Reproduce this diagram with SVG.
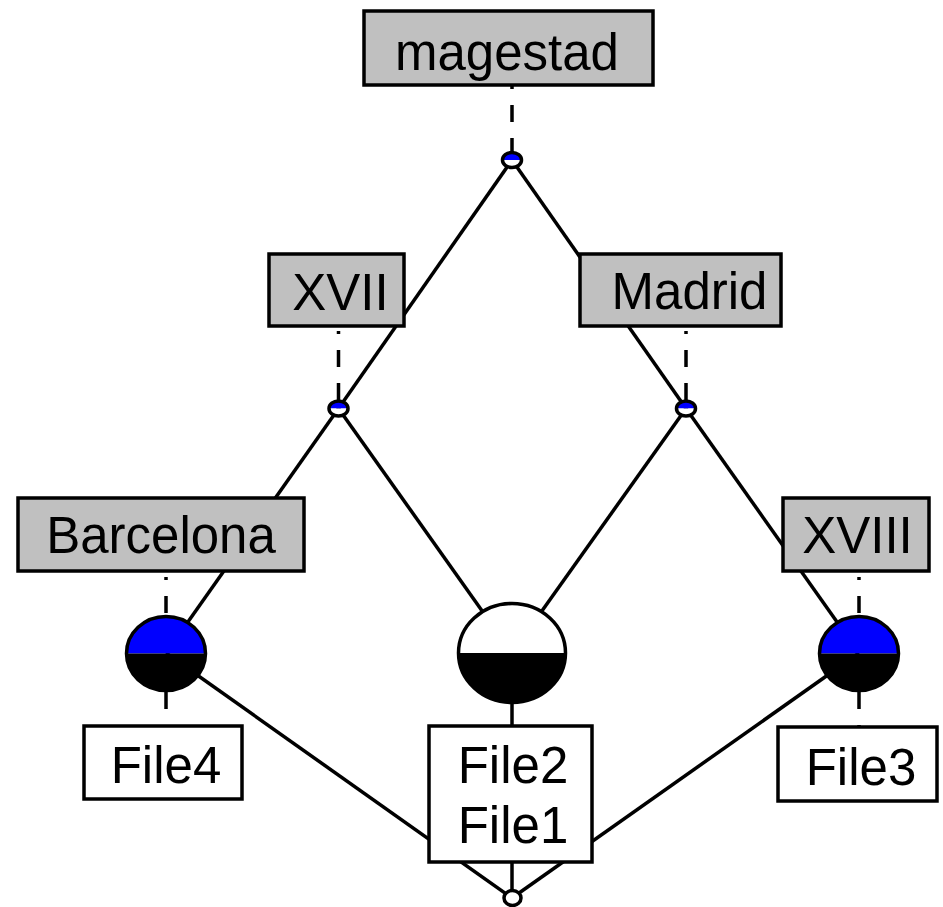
<svg xmlns="http://www.w3.org/2000/svg" width="943" height="907" viewBox="0 0 943 907">
<style>
.ln{stroke:#000;stroke-width:3.5;fill:none}
.dash{stroke:#000;stroke-width:3.5;fill:none;stroke-dasharray:17 16}
.off{stroke-dashoffset:14}
.gbox{fill:#c0c0c0;stroke:#000;stroke-width:3.5}
.wbox{fill:#fff;stroke:#000;stroke-width:3.5}
.lbl{font-family:"Liberation Sans",Arial,sans-serif;font-size:51px;fill:#000;text-anchor:middle}
.out{fill:none;stroke:#000;stroke-width:3.5}
.blue{fill:#0000ff}
.blk{fill:#000}
.wht{fill:#fff}
</style>
<rect width="943" height="907" fill="#fff"/>
<g id="connectors">
<line class="ln" x1="512" y1="160" x2="338.5" y2="408.5"/>
<line class="ln" x1="512" y1="160" x2="686" y2="408.5"/>
<line class="ln" x1="338.5" y1="408.5" x2="166" y2="653"/>
<line class="ln" x1="338.5" y1="408.5" x2="512" y2="653"/>
<line class="ln" x1="686" y1="408.5" x2="512" y2="653"/>
<line class="ln" x1="686" y1="408.5" x2="859" y2="653"/>
<line class="ln" x1="166" y1="653" x2="512" y2="898"/>
<line class="ln" x1="512" y1="653" x2="512" y2="898"/>
<line class="ln" x1="859" y1="653" x2="512" y2="898"/>
<line class="dash off" x1="512" y1="86" x2="512" y2="152"/>
<line class="dash off" x1="338.5" y1="331" x2="338.5" y2="400"/>
<line class="dash off" x1="686" y1="331" x2="686" y2="400"/>
<line class="dash off" x1="166" y1="577" x2="166" y2="615"/>
<line class="dash" x1="166" y1="692" x2="166" y2="727"/>
<line class="dash off" x1="859" y1="577" x2="859" y2="615"/>
<line class="dash" x1="859" y1="692" x2="859" y2="728"/>
</g>
<g id="magestad">
<rect class="gbox" x="364" y="11" width="289" height="74"/>
<text class="lbl" x="507" y="70">magestad</text>
</g>
<g id="n-top">
<path class="blue" d="M502.5,160 A9.5,7.5 0 0 1 521.5,160 Z"/>
<path class="wht" d="M502.5,160 A9.5,7.5 0 0 0 521.5,160 Z"/>
<ellipse class="out" cx="512" cy="160" rx="9.5" ry="7.5"/>
</g>
<g id="XVII">
<rect class="gbox" x="269" y="254" width="135" height="72"/>
<text class="lbl" x="340.5" y="310">XVII</text>
</g>
<g id="Madrid">
<rect class="gbox" x="580" y="254" width="201" height="72"/>
<text class="lbl" x="689.5" y="309">Madrid</text>
</g>
<g id="n-xvii">
<path class="blue" d="M329,408.5 A9.5,7.5 0 0 1 348,408.5 Z"/>
<path class="wht" d="M329,408.5 A9.5,7.5 0 0 0 348,408.5 Z"/>
<ellipse class="out" cx="338.5" cy="408.5" rx="9.5" ry="7.5"/>
</g>
<g id="n-madrid">
<path class="blue" d="M676.5,408.5 A9.5,7.5 0 0 1 695.5,408.5 Z"/>
<path class="wht" d="M676.5,408.5 A9.5,7.5 0 0 0 695.5,408.5 Z"/>
<ellipse class="out" cx="686" cy="408.5" rx="9.5" ry="7.5"/>
</g>
<g id="Barcelona">
<rect class="gbox" x="18" y="498" width="286" height="73"/>
<text class="lbl" x="161" y="553">Barcelona</text>
</g>
<g id="XVIII">
<rect class="gbox" x="783" y="498" width="146" height="73"/>
<text class="lbl" x="857.5" y="553">XVIII</text>
</g>
<g id="c-left">
<path class="blue" d="M126.5,653.5 A39.5,37 0 0 1 205.5,653.5 Z"/>
<path class="blk" d="M126.5,653.5 A39.5,37 0 0 0 205.5,653.5 Z"/>
<ellipse class="out" cx="166" cy="653.5" rx="39.5" ry="37"/>
</g>
<g id="c-mid">
<path class="wht" d="M458.5,653 A53.5,49.5 0 0 1 565.5,653 Z"/>
<path class="blk" d="M458.5,653 A53.5,49.5 0 0 0 565.5,653 Z"/>
<ellipse class="out" cx="512" cy="653" rx="53.5" ry="49.5"/>
</g>
<g id="c-right">
<path class="blue" d="M819.5,653.5 A39.5,37 0 0 1 898.5,653.5 Z"/>
<path class="blk" d="M819.5,653.5 A39.5,37 0 0 0 898.5,653.5 Z"/>
<ellipse class="out" cx="859" cy="653.5" rx="39.5" ry="37"/>
</g>
<g id="File4">
<rect class="wbox" x="84" y="726" width="158" height="73"/>
<text class="lbl" x="166" y="783">File4</text>
</g>
<g id="File2-File1">
<rect class="wbox" x="429" y="726" width="163" height="136"/>
<text class="lbl" x="513" y="783">File2</text>
<text class="lbl" x="513" y="843">File1</text>
</g>
<g id="File3">
<rect class="wbox" x="778" y="727" width="159" height="74"/>
<text class="lbl" x="861" y="785">File3</text>
</g>
<g id="n-bottom">
<ellipse class="wht" cx="512.5" cy="898" rx="8.5" ry="7.5" stroke="#000" stroke-width="3.5"/>
</g>
</svg>
